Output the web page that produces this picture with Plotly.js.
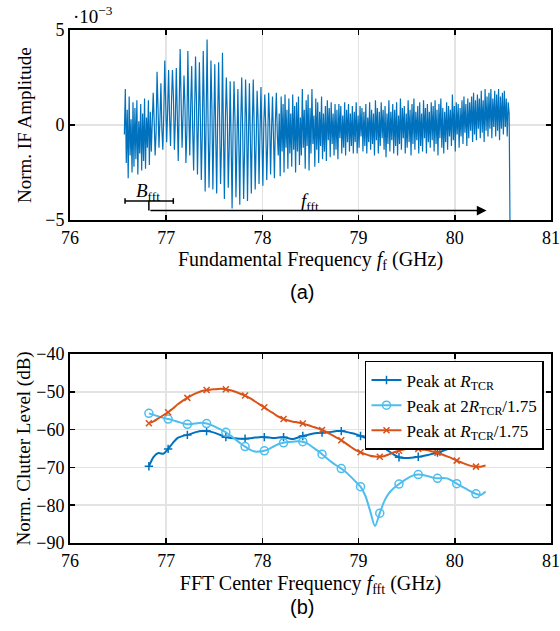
<!DOCTYPE html>
<html><head><meta charset="utf-8">
<script src="https://cdn.plot.ly/plotly-3.0.1.min.js"></script>
<style>html,body{margin:0;padding:0;background:#fff}</style>
</head><body><div id="chart" style="width:560px;height:631px"></div>
<script>
// ---------- (a) Normalized IF amplitude (units of 1e-3) ----------
const ifStart = 76.565;   // GHz, first sample
const ifStep = 0.01;      // GHz per sample
const ifAmplitude = [
  // 76.57 - 76.86
  -0.5, 1.9, -2.0, 0.8, -2.8, 1.5, -1.6, 0.3, -2.5, 1.2,
  -2.2, 0.9, -1.8, 1.3, -2.6, 0.2, -1.5, 1.1, -2.4, 0.6,
  -1.9, 1.4, -2.3, 0.4, -1.2, 1.3, -2.1, 0.7, -1.4, 1.0,
  // 76.86 - 78.16
  1.7, 0.2, -1.6, -0.4,   2.8, 0.9, -1.2, 0.3,   2.2, -0.2, -1.3, 0.6,
  3.4, 1.1, -0.9, 0.8,    2.9, 0.4, -1.1, 1.2,   2.9, 1.5, -1.3, 0.2,
  3.0, 0.6, -1.9, 0.9,    4.0, 1.3, -1.2, 0.5,   2.6, 1.0, -2.0, -0.3,
  3.9, 0.7, -1.6, 1.1,    3.1, -0.2, -2.4, 0.6,  3.6, 1.2, -2.6, 0.2,
  3.3, 0.4, -2.9, -0.5,   3.9, 0.9, -3.5, 0.3,   4.5, 0.1, -3.3, -0.8,
  3.4, 1.0, -3.4, -0.2,   3.2, -0.6, -3.6, 0.4,  3.3, 0.3, -3.1, -1.0,
  3.8, -0.4, -3.9, 0.2,   2.5, 0.5, -3.3, -1.2,  2.3, -0.9, -4.4, -0.3,
  2.3, 0.2, -3.8, -1.1,   1.9, -1.0, -4.2, 0.1,  2.5, -0.3, -3.9, -1.3,
  2.4, 0.4, -4.0, -0.6,   2.2, -0.8, -3.6, 0.0,  2.4, -0.2, -3.4, -1.0,
  1.8, 0.3, -3.1, -0.4,   2.0, -0.7, -3.2, 0.1,  1.6, -0.1, -2.9, -0.9,
  1.7, 0.2, -2.6, -0.3,   1.5, -0.6, -2.8, 0.2,  1.7, -0.5,
  // 78.16 - 80.56
  -1.6, 0.6, -2.7, 1.5, -1.4, 1.1, -2.5, 1.6, -1.2, 0.8,
  -2.3, 1.4, -1.5, 0.6, -2.2, 1.6, -1.3, 1.0, -2.5, 1.2,
  -1.4, 1.5, -2.1, 0.4, -1.6, 1.9, -1.2, 0.8, -2.3, 1.3,
  -1.1, 1.6, -2.4, 0.9, -1.5, 1.9, -1.0, 0.5, -2.2, 1.4,
  -1.3, 1.2, -2.0, 0.7, -1.1, 1.5, -1.8, 0.6, -1.4, 1.0,
  -1.9, 1.3, -0.8, 0.9, -1.7, 1.2, -1.0, 0.6, -1.6, 1.1,
  -1.3, 0.8, -1.8, 1.1, -0.7, 1.0, -1.5, 0.5, -1.2, 1.2,
  -1.6, 0.8, -0.9, 1.1, -1.4, 0.6, -1.1, 1.0, -1.5, 0.7,
  -0.9, 1.2, -1.5, 0.5, -1.2, 1.0, -0.6, 0.9, -1.4, 0.7,
  -1.1, 1.1, -1.5, 0.4, -0.9, 1.2, -1.3, 0.8, -1.0, 0.6,
  -1.6, 1.3, -0.8, 0.9, -1.5, 0.7, -1.1, 1.2, -0.7, 0.8,
  -1.3, 1.0, -1.7, 0.6, -1.0, 1.3, -1.4, 0.7, -0.8, 1.1,
  -1.5, 0.8, -1.1, 1.2, -1.6, 0.5, -1.0, 1.4, -1.3, 0.9,
  -0.7, 1.0, -1.5, 0.6, -1.2, 1.3, -0.9, 0.8, -1.6, 1.1,
  -1.0, 1.4, -1.3, 0.7, -0.8, 1.0, -1.5, 1.2, -1.1, 0.6,
  -1.4, 1.3, -0.7, 0.9, -1.5, 1.1, -0.9, 0.7, -1.2, 1.2,
  -0.8, 1.0, -1.4, 1.3, -1.0, 0.8, -1.6, 1.1, -0.7, 1.4,
  -1.2, 0.9, -1.5, 0.7, -0.9, 1.2, -1.3, 1.0, -0.6, 0.8,
  -1.1, 1.6, -0.8, 1.0, -1.4, 1.2, -0.5, 1.1, -1.2, 0.9,
  -0.6, 1.3, -1.0, 1.5, -0.4, 1.1, -1.1, 1.4, -0.7, 1.2,
  -0.3, 1.5, -0.9, 1.7, -0.5, 1.3, -0.8, 1.6, -0.2, 1.4,
  -0.7, 1.8, -0.4, 1.3, -0.9, 1.9, -0.3, 1.5, -0.6, 1.7,
  -0.2, 1.9, -0.7, 1.4, -0.1, 1.8, -0.6, 1.6, -0.3, 1.9,
  -0.8, 1.5, -0.2, 1.7, -0.5, 1.8, -0.1, 1.4, -0.6, 1.2,
  // end of sweep
  0.6, -6.0
];
const bfftStart = 76.572, bfftEnd = 77.074, fftArrowStart = 76.82, fftArrowEnd = 80.33;

// ---------- (b) Normalized clutter level (dB) ----------
const fftStart = 76.82;   // GHz
const fftStep = 0.05;     // GHz
const markerEvery = 4;    // marker every 0.2 GHz
const seriesNames = [
  'Peak at <i>R</i><sub>TCR</sub>',
  'Peak at 2<i>R</i><sub>TCR</sub>/1.75',
  'Peak at <i>R</i><sub>TCR</sub>/1.75'
];
const clutterRtcr = [
  -69.7, -67.2, -66.2, -66.4, -65.1, -63.5, -62.2, -61.7, -61.4, -61.0,
  -60.6, -60.4, -60.4, -60.6, -61.0, -61.5, -62.0, -62.2, -62.3, -62.4,
  -62.4, -62.3, -62.1, -62.0, -62.0, -62.1, -62.2, -62.1, -62.0, -62.3,
  -62.5, -62.1, -61.7, -61.4, -61.1, -60.9, -60.8, -60.7, -60.6, -60.4,
  -60.4, -60.6, -60.9, -61.2, -61.7, -62.2, -62.9, -63.5, -64.1, -64.9,
  -65.8, -66.7, -67.3, -67.5, -67.5, -67.4, -67.2, -67.0, -66.7, -66.4,
  -66.1, -65.7, -65.2, -64.7, -64.2, -63.7, -63.2, -62.7, -62.3, -61.9,
  -61.5
];
const clutter2Rtcr = [
  -55.7, -56.1, -56.5, -56.9, -57.2, -57.5, -57.9, -58.3, -58.6, -58.5,
  -58.3, -58.2, -58.4, -58.8, -59.4, -60.0, -60.7, -61.6, -62.6, -63.6,
  -64.5, -65.3, -65.8, -65.8, -65.6, -65.1, -64.4, -63.8, -63.5, -63.3,
  -63.2, -63.1, -63.2, -63.7, -64.6, -65.5, -66.5, -67.6, -68.6, -69.5,
  -70.3, -71.3, -72.5, -73.8, -75.1, -77.5, -81.5, -85.5, -82.1, -78.8,
  -76.7, -75.4, -74.4, -73.5, -72.7, -72.1, -71.9, -72.0, -72.3, -72.7,
  -72.9, -72.8, -72.9, -73.5, -74.3, -75.0, -75.7, -76.4, -77.0, -77.3,
  -76.4
];
const clutterRtcrDiv = [
  -58.3, -57.8, -57.0, -56.2, -55.4, -54.4, -53.3, -52.4, -51.6, -50.9,
  -50.3, -49.8, -49.5, -49.4, -49.3, -49.2, -49.3, -49.6, -50.0, -50.5,
  -51.0, -51.7, -52.5, -53.3, -54.1, -55.0, -55.8, -56.6, -57.2, -57.6,
  -57.9, -58.1, -58.4, -58.8, -59.2, -59.6, -60.1, -60.7, -61.4, -62.1,
  -62.8, -63.7, -64.6, -65.4, -66.0, -66.5, -66.9, -67.1, -67.2, -67.0,
  -66.5, -66.0, -65.6, -65.3, -65.1, -65.0, -65.1, -65.3, -65.5, -65.8,
  -66.1, -66.6, -67.1, -67.6, -68.2, -68.7, -69.2, -69.6, -69.8, -69.8,
  -69.5
];
const xTicks = [76, 77, 78, 79, 80, 81];
const yTicksA = [-5, 0, 5];
const yTicksB = [-90, -80, -70, -60, -50, -40];

// ---------- build ----------
const serif = 'Liberation Serif, Times New Roman, serif';
const ifX = ifAmplitude.map((_, i) => ifStart + i * ifStep);
const fftX = clutterRtcr.map((_, i) => fftStart + i * fftStep);
const colors = ['#0072BD', '#4DBEEE', '#D95319'];
const symbols = ['cross-thin', 'circle-open', 'x-thin'];
const sizes = [6, 8, 6];
const seriesData = [clutterRtcr, clutter2Rtcr, clutterRtcrDiv];

const traces = [{
  x: ifX, y: ifAmplitude, type: 'scatter', mode: 'lines',
  line: {color: '#0072BD', width: 1.2}, xaxis: 'x', yaxis: 'y', showlegend: false
}];
seriesData.forEach((ys, k) => {
  const mk = {symbol: symbols[k], size: sizes[k], color: colors[k], line: {color: colors[k], width: 1.5}};
  traces.push({x: fftX, y: ys, type: 'scatter', mode: 'lines', xaxis: 'x2', yaxis: 'y2',
    line: {color: colors[k], width: 2, shape: 'spline', smoothing: 0.8}, showlegend: false, legendgroup: 'g' + k});
  const mx = [], my = [];
  ys.forEach((v, i) => { if (i % markerEvery === 0) { mx.push(fftX[i]); my.push(v); } });
  traces.push({x: mx, y: my, type: 'scatter', mode: 'markers', xaxis: 'x2', yaxis: 'y2',
    marker: mk, showlegend: false, legendgroup: 'g' + k});
  traces.push({x: [null], y: [null], type: 'scatter', mode: 'lines+markers', xaxis: 'x2', yaxis: 'y2',
    name: seriesNames[k], line: {color: colors[k], width: 2}, marker: mk, legendgroup: 'g' + k});
});

const axisCommon = {
  showline: true, linecolor: '#000', linewidth: 2, mirror: 'allticks',
  ticks: 'inside', ticklen: 5, tickwidth: 1.5, tickcolor: '#000',
  showgrid: true, gridcolor: '#e3e3e3', gridwidth: 1.5, zeroline: false,
  tickfont: {family: serif, size: 18, color: '#000'}
};
const titleFont = {family: serif, size: 20, color: '#000'};
const yTitleFont = {family: serif, size: 19, color: '#000'};

const layout = {
  width: 560, height: 631,
  margin: {l: 70, r: 9, t: 30, b: 88},
  paper_bgcolor: '#fff', plot_bgcolor: '#fff',
  showlegend: true,
  xaxis: Object.assign({}, axisCommon, {range: [76, 81], tickvals: xTicks, anchor: 'y',
    title: {text: 'Fundamental Frequency <i>f</i><sub>f</sub> (GHz)', font: titleFont, standoff: 4}}),
  yaxis: Object.assign({}, axisCommon, {range: [-5, 5], tickvals: yTicksA, domain: [0.6296, 1], anchor: 'x'}),
  xaxis2: Object.assign({}, axisCommon, {range: [76, 81], tickvals: xTicks, anchor: 'y2',
    title: {text: 'FFT Center Frequency <i>f</i><sub>fft</sub> (GHz)', font: titleFont, standoff: 6}}),
  yaxis2: Object.assign({}, axisCommon, {range: [-90, -40], tickvals: yTicksB, domain: [0, 0.3684], anchor: 'x2'}),
  legend: {x: 0.9854, xanchor: 'right', y: 0.3548, yanchor: 'top',
    bgcolor: '#fff', bordercolor: '#000', borderwidth: 1.5,
    font: {family: serif, size: 17, color: '#000'}, tracegroupgap: 0, itemwidth: 30},
  shapes: [
    {type: 'line', xref: 'x', yref: 'y', x0: bfftStart, x1: bfftEnd, y0: -4.0, y1: -4.0, line: {color: '#000', width: 1.5}},
    {type: 'line', xref: 'x', yref: 'y', x0: bfftStart, x1: bfftStart, y0: -3.85, y1: -4.15, line: {color: '#000', width: 1.5}},
    {type: 'line', xref: 'x', yref: 'y', x0: bfftEnd, x1: bfftEnd, y0: -3.85, y1: -4.15, line: {color: '#000', width: 1.5}},
    {type: 'line', xref: 'x', yref: 'y', x0: fftArrowStart, x1: fftArrowStart, y0: -4.0, y1: -4.5, line: {color: '#000', width: 1.5}}
  ],
  annotations: [
    {xref: 'x', yref: 'y', x: fftArrowEnd, y: -4.5, ax: fftArrowStart, ay: -4.5, axref: 'x', ayref: 'y',
      showarrow: true, arrowhead: 2, arrowsize: 1.3, arrowwidth: 1.5, arrowcolor: '#000', text: ''},
    {xref: 'x', yref: 'y', x: 76.81, y: -3.55, text: '<i>B</i><sub>fft</sub>', showarrow: false,
      font: {family: serif, size: 19, color: '#000'}},
    {xref: 'x', yref: 'y', x: 78.49, y: -4.05, text: '<i>f</i><sub>fft</sub>', showarrow: false,
      font: {family: serif, size: 19, color: '#000'}},
    {xref: 'paper', yref: 'paper', x: 0.002, y: 1.002, xanchor: 'left', yanchor: 'bottom',
      text: '·10<sup>−3</sup>', showarrow: false, font: {family: serif, size: 19, color: '#000'}},
    {xref: 'paper', yref: 'y domain', x: 0, xshift: -46, y: 0.5, xanchor: 'center', yanchor: 'middle',
      textangle: -90, text: 'Norm. IF Amplitude', showarrow: false, font: yTitleFont},
    {xref: 'paper', yref: 'y2 domain', x: 0, xshift: -46, y: 0.5, xanchor: 'center', yanchor: 'middle',
      textangle: -90, text: 'Norm. Clutter Level (dB)', showarrow: false, font: yTitleFont},
    {xref: 'paper', yref: 'paper', x: 0.4823, y: 0.4893, yanchor: 'middle', text: '(a)', showarrow: false,
      font: {family: 'Liberation Sans, Arial, sans-serif', size: 20, color: '#000'}},
    {xref: 'paper', yref: 'paper', x: 0.4823, y: -0.1248, yanchor: 'middle', text: '(b)', showarrow: false,
      font: {family: 'Liberation Sans, Arial, sans-serif', size: 20, color: '#000'}}
  ]
};

Plotly.newPlot('chart', traces, layout, {displayModeBar: false, staticPlot: true});
</script>
</body></html>
